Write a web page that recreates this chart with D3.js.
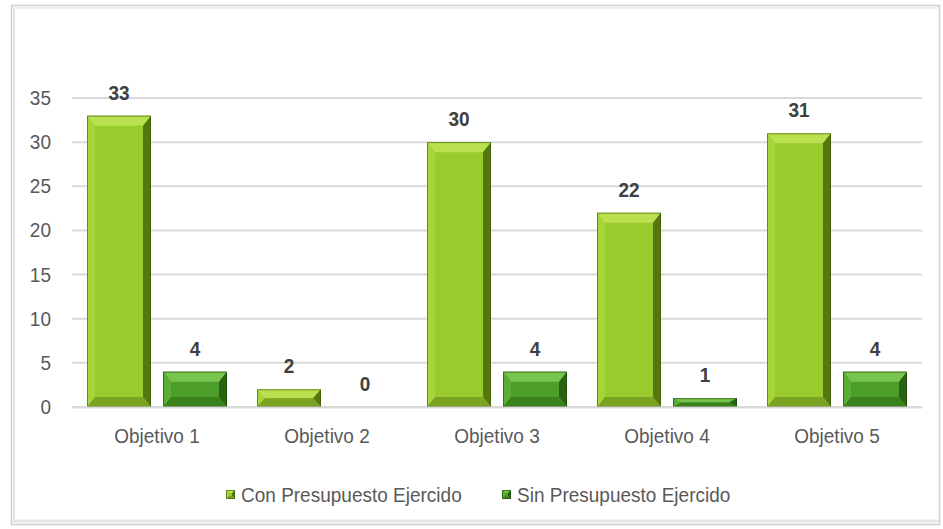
<!DOCTYPE html>
<html><head><meta charset="utf-8">
<script src="https://cdn.jsdelivr.net/npm/d3@7"></script>
<style>body{margin:0;background:#fff}svg{display:block}</style>
</head><body>
<svg id="c" width="943" height="529"></svg>
<script>
const categories = ["Objetivo 1","Objetivo 2","Objetivo 3","Objetivo 4","Objetivo 5"];
const seriesNames = ["Con Presupuesto Ejercido","Sin Presupuesto Ejercido"];
const conValues = [33, 2, 30, 22, 31];
const sinValues = [4, 0, 4, 1, 4];
const yTicks = [0,5,10,15,20,25,30,35];

const palettes = [
  {face:"#9acb2e", top:"#b9e150", left:"#a6d53a", right:"#54770f", bottom:"#7aa322", edge:"#3a560a"},
  {face:"#4d9e2a", top:"#79c44f", left:"#5aae33", right:"#286311", bottom:"#3b821c", edge:"#1c470a"}
];

const svg = d3.select("#c");
const font = "'Liberation Sans', Arial, sans-serif";
const SY = 1.1;

// frame
svg.append("rect").attr("x",11.5).attr("y",5.5).attr("width",928).attr("height",519)
  .attr("fill","#fff").attr("stroke","#cfcfcf").attr("stroke-width",1.5);
svg.append("line").attr("x1",14).attr("x2",14).attr("y1",7).attr("y2",523).attr("stroke","#e4e4e4").attr("stroke-width",2);
svg.append("line").attr("x1",13).attr("x2",939).attr("y1",521).attr("y2",521).attr("stroke","#e6e6e6").attr("stroke-width",3);
svg.append("line").attr("x1",13).attr("x2",939).attr("y1",8).attr("y2",8).attr("stroke","#eeeeee").attr("stroke-width",2);

const x0 = d3.scaleBand().domain(categories).range([72,922]).padding(0);
const x1 = d3.scaleBand().domain(seriesNames).range([15,155]).paddingInner(0.158).paddingOuter(0);
const y = d3.scaleLinear().domain([0,35]).range([407,98]);

function txt(g, x, yy, s, opts) {
  return g.append("text")
    .attr("transform", `translate(${x},${yy}) scale(1,${SY})`)
    .attr("font-family", font)
    .attr("font-size", opts.size || 19)
    .attr("font-weight", opts.weight || "normal")
    .attr("fill", opts.fill || "#595959")
    .attr("text-anchor", opts.anchor || "middle")
    .text(s);
}

// gridlines
const grid = svg.append("g");
yTicks.forEach(t => {
  grid.append("line").attr("x1",72).attr("x2",922).attr("y1",y(t)).attr("y2",y(t))
    .attr("stroke","#d9d9d9").attr("stroke-width",2);
});

// y axis labels
const yAxis = d3.axisLeft(y).tickValues(yTicks).tickSize(0).tickFormat(d3.format("d"));
const yg = svg.append("g").attr("transform","translate(51,0)").call(yAxis);
yg.select(".domain").remove();
yg.selectAll("text").remove();
yg.selectAll(".tick").each(function(d){
  txt(yg, 0, y(d)+7, String(d), {anchor:"end"});
});

function bevelBar(g, bx, by, w, h, p, bt, bsd) {
  if (h <= 0) return;
  const b = Math.min(bt, h/2, w/2);
  const bs = Math.min(bsd, w/2);
  const x2 = bx + w, y2 = by + h;
  g.append("rect").attr("x",bx).attr("y",by).attr("width",w).attr("height",h).attr("fill",p.face);
  g.append("polygon").attr("points",[[bx,by],[x2,by],[x2-bs,by+b],[bx+bs,by+b]].join(" ")).attr("fill",p.top);
  g.append("polygon").attr("points",[[bx,by],[bx+bs,by+b],[bx+bs,y2-b],[bx,y2]].join(" ")).attr("fill",p.left);
  g.append("polygon").attr("points",[[x2,by],[x2,y2],[x2-bs,y2-b],[x2-bs,by+b]].join(" ")).attr("fill",p.right);
  g.append("polygon").attr("points",[[bx,y2],[bx+bs,y2-b],[x2-bs,y2-b],[x2,y2]].join(" ")).attr("fill",p.bottom);
  g.append("rect").attr("x",bx+0.5).attr("y",by+0.5).attr("width",w-1).attr("height",h-1)
    .attr("fill","none").attr("stroke",p.edge).attr("stroke-width",1).attr("stroke-opacity",0.6);
}

const seriesValues = [conValues, sinValues];
const barsG = svg.append("g");
categories.forEach((c,i) => {
  seriesNames.forEach((s,j) => {
    const v = seriesValues[j][i];
    const bx = x0(c) + x1(s);
    const w = x1.bandwidth();
    bevelBar(barsG, bx, y(v), w, y(0)-y(v), palettes[j], 10, 8);
    txt(barsG, bx + w/2, y(v) - 16, String(v), {weight:"bold", fill:"#404040", size:19});
  });
});

svg.append("line").attr("x1",72).attr("x2",922).attr("y1",407.5).attr("y2",407.5).attr("stroke","#d9d9d9").attr("stroke-width",2);

// x axis labels
const xAxis = d3.axisBottom(x0).tickSize(0);
const xg = svg.append("g").attr("transform","translate(0,407)").call(xAxis);
xg.select(".domain").remove();
xg.selectAll("text").remove();
xg.selectAll(".tick").each(function(d){
  txt(xg, x0(d)+x0.bandwidth()/2, 36, d, {});
});

// legend
const legendX = [226, 502];
const leg = svg.append("g");
seriesNames.forEach((s,j) => {
  const lx = legendX[j];
  bevelBar(leg, lx, 490, 9, 9, palettes[j], 3, 3);
  txt(leg, lx + 15, 502, s, {anchor:"start"});
});
</script>
</body></html>
